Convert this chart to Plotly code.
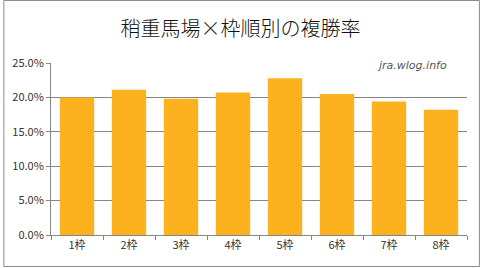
import plotly.graph_objects as go

categories = ["1枠", "2枠", "3枠", "4枠", "5枠", "6枠", "7枠", "8枠"]
values = [0.200, 0.211, 0.198, 0.207, 0.228, 0.205, 0.194, 0.182]
title_text = "稍重馬場×枠順別の複勝率"
watermark = "jra.wlog.info"

W, H = 481, 268
ml, mr, mt, mb = 48, 14, 63, 33
pw, ph = W - ml - mr, H - mt - mb

def px2paper_x(px):
    return (px - ml) / pw

def px2paper_y(py):
    return (H - mb - py) / ph

fig = go.Figure(go.Bar(
    x=categories, y=values,
    marker=dict(color="#FCB11F", line=dict(width=0)),
    hoverinfo="skip",
))

fig.update_layout(
    width=W, height=H,
    margin=dict(l=ml, r=mr, t=mt, b=mb),
    paper_bgcolor="white", plot_bgcolor="white",
    bargap=0.34,
    showlegend=False,
    font=dict(family="Noto Sans CJK JP", size=11, color="#333333"),
    title=dict(
        text=title_text, x=0.5, xref="container", xanchor="center",
        y=1 - 29 / H, yref="container", yanchor="middle",
        font=dict(family="Noto Sans CJK JP", size=20, color="#111111", weight=300),
    ),
    xaxis=dict(
        type="category", showline=True, linecolor="#868686", linewidth=1,
        ticks="outside", tickson="boundaries", ticklen=4, tickcolor="#868686",
        showgrid=False, tickfont=dict(size=11, color="#333333"),
    ),
    yaxis=dict(
        range=[0, 0.25], dtick=0.05, tickformat=".1%",
        showline=True, linecolor="#868686", linewidth=1,
        ticks="outside", ticklen=4, tickcolor="#868686",
        showgrid=True, gridcolor="#868686", gridwidth=1,
        zeroline=False, tickfont=dict(size=11, color="#333333"),
    ),
    shapes=[dict(
        type="rect", xref="paper", yref="paper",
        x0=px2paper_x(0.5), x1=px2paper_x(479.5),
        y0=px2paper_y(266.5), y1=px2paper_y(0.5),
        line=dict(color="#8C8C8C", width=1), fillcolor="rgba(0,0,0,0)",
        layer="above",
    )],
    annotations=[dict(
        text="<i>" + watermark + "</i>", xref="paper", yref="paper",
        x=px2paper_x(412), y=px2paper_y(65), xanchor="center", yanchor="middle",
        showarrow=False, bgcolor="white", borderpad=3,
        font=dict(family="DejaVu Sans", size=11, color="#555555", weight=300),
    )],
)

fig.write_html("out.html")
